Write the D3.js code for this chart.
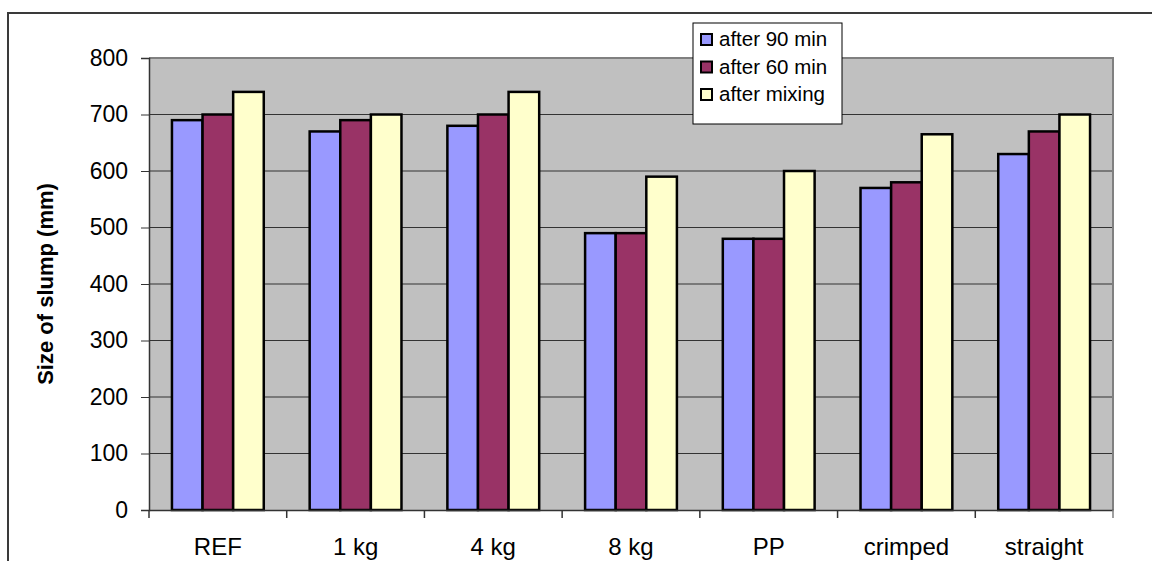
<!DOCTYPE html>
<html lang="en">
<head>
<meta charset="utf-8">
<script src="https://cdn.jsdelivr.net/npm/d3@7"></script>
<style>
	body { margin: 0; background: #fff; }
	svg { display: block; font-family: "Liberation Sans", Arial, sans-serif; }
</style>
</head>
<body>
<div id="chart"></div>
<script>
	// data
	var categories = ["REF", "1 kg", "4 kg", "8 kg", "PP", "crimped", "straight"];
	var seriesNames = ["after 90 min", "after 60 min", "after mixing"];
	var after90 = [690, 670, 680, 490, 480, 570, 630];
	var after60 = [700, 690, 700, 490, 480, 580, 670];
	var afterMixing = [740, 700, 740, 590, 600, 665, 700];
	var yTicks = [0, 100, 200, 300, 400, 500, 600, 700, 800];
	var colors = ["#9999ff", "#993366", "#ffffcc"];

	var series = [after90, after60, afterMixing];

	var W = 1152, H = 561;
	var margin = {top: 58, right: 39, bottom: 51, left: 149},
		width = W - margin.left - margin.right,
		height = H - margin.top - margin.bottom;

	var svg = d3.select("#chart").append("svg")
		.attr("width", W)
		.attr("height", H);

	// outer chart border (only top and left show)
	svg.append("rect")
		.attr("x", 8).attr("y", 13)
		.attr("width", W + 20).attr("height", H + 20)
		.attr("fill", "#fff")
		.attr("stroke", "#3a3a3a")
		.attr("stroke-width", 2);

	var g = svg.append("g")
		.attr("transform", "translate(" + margin.left + "," + margin.top + ")");

	var x = d3.scaleBand()
		.domain(categories)
		.range([0, width])
		.paddingInner(0)
		.paddingOuter(0);

	var inner = d3.scaleBand()
		.domain(d3.range(series.length))
		.range([x.bandwidth() * 0.75 / 4.5, x.bandwidth() * (1 - 0.75 / 4.5)]);

	var y = d3.scaleLinear()
		.domain([0, 800])
		.range([height, 0]);

	// plot background
	g.append("rect")
		.attr("width", width)
		.attr("height", height)
		.attr("fill", "#c0c0c0");

	// gridlines
	g.selectAll(".grid")
		.data(yTicks.filter(function(d) { return d > 0; }))
		.enter().append("line")
		.attr("x1", 0).attr("x2", width)
		.attr("y1", function(d) { return y(d); })
		.attr("y2", function(d) { return y(d); })
		.attr("stroke", "#333")
		.attr("stroke-width", 1);

	// grey border top and right
	g.append("path")
		.attr("d", "M0," + y(800) + "H" + width + "V" + height)
		.attr("fill", "none")
		.attr("stroke", "#808080")
		.attr("stroke-width", 2);

	// bars
	var groups = g.selectAll(".group")
		.data(categories)
		.enter().append("g")
		.attr("transform", function(d) { return "translate(" + x(d) + ",0)"; });

	groups.selectAll("rect")
		.data(function(d, i) { return series.map(function(s, k) { return {k: k, v: s[i]}; }); })
		.enter().append("rect")
		.attr("x", function(d) { return inner(d.k); })
		.attr("y", function(d) { return y(d.v); })
		.attr("width", inner.bandwidth())
		.attr("height", function(d) { return height - y(d.v); })
		.attr("fill", function(d) { return colors[d.k]; })
		.attr("stroke", "#000")
		.attr("stroke-width", 2.5);

	// y axis
	var yAxis = g.append("g")
		.call(d3.axisLeft(y).tickValues(yTicks).tickSize(8).tickPadding(13));
	yAxis.select(".domain").attr("stroke", "#333").attr("stroke-width", 1.5);
	yAxis.selectAll(".tick line").attr("stroke", "#333");
	yAxis.selectAll("text")
		.attr("font-size", 23)
		.attr("font-family", "Liberation Sans, Arial, sans-serif")
		.attr("fill", "#000");

	// x axis
	var xAxis = g.append("g")
		.attr("transform", "translate(0," + height + ")")
		.call(d3.axisBottom(x).tickSize(0).tickPadding(0));
	xAxis.select(".domain").attr("stroke", "#333").attr("stroke-width", 1.5);
	xAxis.selectAll("text")
		.attr("dy", null)
		.attr("y", 45)
		.attr("font-size", 24)
		.attr("font-family", "Liberation Sans, Arial, sans-serif")
		.attr("fill", "#000");
	// boundary ticks between categories
	xAxis.selectAll(".bound")
		.data(categories.concat(["end"]))
		.enter().append("line")
		.attr("x1", function(d, i) { return i * x.step(); })
		.attr("x2", function(d, i) { return i * x.step(); })
		.attr("y1", 0).attr("y2", 8)
		.attr("stroke", function(d, i) { return i === categories.length ? "#808080" : "#333"; })
		.attr("stroke-width", 1.5);

	// y axis title
	svg.append("text")
		.attr("transform", "translate(53," + (margin.top + height / 2) + ") rotate(-90)")
		.attr("text-anchor", "middle")
		.attr("font-size", 22)
		.attr("font-weight", "bold")
		.text("Size of slump (mm)");

	// legend
	var legend = svg.append("g").attr("transform", "translate(693,23)");
	legend.append("rect")
		.attr("width", 149).attr("height", 101)
		.attr("fill", "#fff")
		.attr("stroke", "#000")
		.attr("stroke-width", 1);
	var items = legend.selectAll(".item")
		.data(seriesNames)
		.enter().append("g")
		.attr("transform", function(d, i) { return "translate(8," + (11 + i * 27.5) + ")"; });
	items.append("rect")
		.attr("width", 11).attr("height", 11)
		.attr("fill", function(d, i) { return colors[i]; })
		.attr("stroke", "#000")
		.attr("stroke-width", 2);
	items.append("text")
		.attr("x", 18).attr("y", 12)
		.attr("font-size", 20.5)
		.text(function(d) { return d; });
</script>
</body>
</html>
